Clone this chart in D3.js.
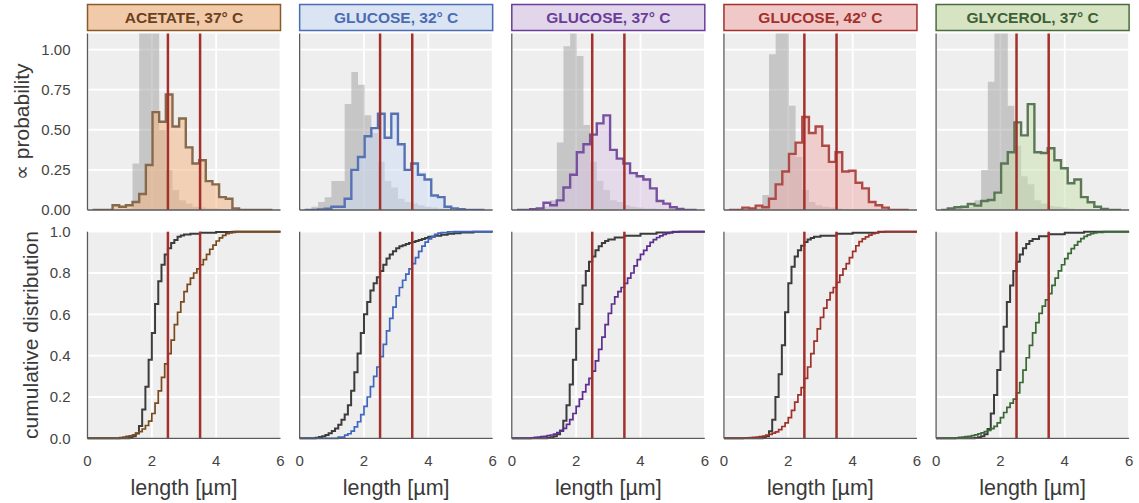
<!DOCTYPE html>
<html><head><meta charset="utf-8">
<script src="https://cdn.jsdelivr.net/npm/d3@7"></script>
<style>body{margin:0;background:#fff}</style>
</head><body>
<svg id="c" width="1139" height="503"></svg>
<script>
// ---------- data ----------
const conditions = ["ACETATE, 37° C", "GLUCOSE, 32° C", "GLUCOSE, 37° C", "GLUCOSE, 42° C", "GLYCEROL, 37° C"];
const boundaries = [2.5, 3.5];
const xTicks = [0, 2, 4, 6];
const yTicksTop = [0, 0.25, 0.5, 0.75, 1.0];
const yTicksBottom = [0, 0.2, 0.4, 0.6, 0.8, 1.0];
const binStart = 0.158, binWidth = 0.207;

const histAcetate   = [0,0,0,0.03,0.02,0.03,0.05,0.1,0.28,0.61,0.55,0.72,0.52,0.57,0.39,0.29,0.31,0.18,0.16,0.08,0.07,0.01,0,0,0,0,0];
const refAcetate    = [0,0,0,0,0.005,0.01,0.29,1.2,1.3,1.2,0.5,0.25,0.125,0.06,0.04,0.02,0.015,0.01,0.01,0.005,0,0,0,0,0,0,0];
const histGlucose32 = [0,0,0.003,0.008,0.02,0.02,0.07,0.25,0.33,0.46,0.51,0.6,0.45,0.6,0.41,0.25,0.29,0.22,0.19,0.09,0.08,0.02,0.01,0.005,0,0,0];
const refGlucose32  = [0.005,0.02,0.05,0.08,0.18,0.18,0.66,0.86,0.78,0.59,0.48,0.3,0.18,0.14,0.07,0.05,0.04,0.03,0.02,0.015,0.01,0.01,0.005,0.005,0,0,0];
const histGlucose37 = [0,0,0.005,0.01,0.045,0.03,0.06,0.14,0.22,0.36,0.41,0.47,0.54,0.59,0.375,0.32,0.29,0.23,0.21,0.19,0.135,0.056,0.04,0.017,0.006,0,0];
const refGlucose37  = [0,0,0.005,0.01,0.02,0.06,0.42,1.02,1.2,0.96,0.53,0.3,0.18,0.125,0.06,0.05,0.03,0.02,0.015,0.01,0.01,0.005,0,0,0,0,0];
const histGlucose42 = [0,0,0.015,0.01,0.027,0.017,0.07,0.16,0.24,0.35,0.42,0.58,0.48,0.52,0.4,0.3,0.36,0.24,0.245,0.17,0.135,0.05,0.03,0.015,0,0,0];
const refGlucose42  = [0,0,0.005,0.01,0.02,0.094,0.97,1.35,1.3,0.65,0.33,0.125,0.05,0.03,0.02,0.015,0.01,0.005,0,0,0,0,0,0,0,0,0];
const histGlycerol  = [0,0.01,0.017,0.02,0.037,0.027,0.056,0.062,0.108,0.29,0.36,0.546,0.465,0.66,0.36,0.355,0.385,0.31,0.26,0.167,0.19,0.08,0.048,0.02,0.006,0,0];
const refGlycerol   = [0,0.005,0.01,0.015,0.02,0.06,0.25,0.8,1.15,1.2,0.65,0.4,0.21,0.16,0.06,0.04,0.025,0.02,0.015,0.01,0.005,0,0,0,0,0,0];

const cdfRefAcetate = [[0,0],[1.2,0],[1.3,0.004],[1.4,0.01],[1.5,0.025],[1.6,0.06],[1.7,0.14],[1.8,0.25],[1.9,0.38],[2.0,0.51],[2.1,0.65],[2.2,0.76],[2.3,0.84],[2.4,0.89],[2.5,0.92],[2.6,0.945],[2.7,0.96],[2.8,0.975],[2.9,0.982],[3.0,0.987],[3.2,0.99],[3.5,0.995],[4.0,0.998],[4.5,1],[6,1]];
const cdfAcetate = [[0,0],[0.9,0],[1.0,0.003],[1.1,0.006],[1.2,0.009],[1.3,0.012],[1.4,0.017],[1.5,0.022],[1.6,0.032],[1.7,0.045],[1.8,0.062],[1.9,0.083],[2.0,0.12],[2.1,0.17],[2.2,0.23],[2.3,0.295],[2.4,0.36],[2.5,0.41],[2.6,0.475],[2.7,0.55],[2.8,0.61],[2.9,0.66],[3.0,0.71],[3.1,0.745],[3.2,0.775],[3.3,0.8],[3.4,0.82],[3.5,0.84],[3.6,0.865],[3.7,0.89],[3.8,0.915],[3.9,0.935],[4.0,0.955],[4.1,0.97],[4.2,0.982],[4.3,0.99],[4.4,0.994],[4.5,0.997],[4.6,1],[6,1]];
const cdfRefGlucose32 = [[0,0],[0.4,0],[0.5,0.003],[0.6,0.006],[0.7,0.01],[0.8,0.016],[0.9,0.024],[1.0,0.035],[1.1,0.048],[1.2,0.065],[1.3,0.09],[1.4,0.115],[1.5,0.16],[1.6,0.23],[1.7,0.32],[1.8,0.41],[1.9,0.51],[2.0,0.6],[2.1,0.66],[2.2,0.715],[2.3,0.75],[2.4,0.78],[2.5,0.81],[2.6,0.84],[2.7,0.87],[2.8,0.89],[2.9,0.905],[3.0,0.92],[3.1,0.93],[3.2,0.935],[3.3,0.94],[3.4,0.945],[3.5,0.95],[3.6,0.955],[3.7,0.96],[3.8,0.965],[3.9,0.97],[4.0,0.975],[4.2,0.98],[4.4,0.985],[4.6,0.99],[4.8,0.993],[5.0,0.996],[5.4,1],[6,1]];
const cdfGlucose32 = [[0,0],[1.0,0],[1.2,0.006],[1.4,0.015],[1.5,0.022],[1.6,0.035],[1.7,0.055],[1.8,0.08],[1.9,0.115],[2.0,0.155],[2.1,0.2],[2.2,0.25],[2.3,0.3],[2.4,0.345],[2.5,0.395],[2.6,0.455],[2.7,0.52],[2.8,0.58],[2.9,0.635],[3.0,0.69],[3.1,0.73],[3.2,0.765],[3.3,0.795],[3.4,0.82],[3.5,0.845],[3.6,0.875],[3.7,0.905],[3.8,0.93],[3.9,0.95],[4.0,0.965],[4.1,0.978],[4.2,0.987],[4.3,0.993],[4.4,0.996],[4.6,0.999],[4.8,1],[6,1]];
const cdfRefGlucose37 = [[0,0],[1.0,0],[1.1,0.002],[1.2,0.005],[1.3,0.01],[1.4,0.02],[1.5,0.038],[1.6,0.085],[1.7,0.16],[1.8,0.26],[1.9,0.38],[2.0,0.53],[2.1,0.65],[2.2,0.74],[2.3,0.81],[2.4,0.855],[2.5,0.88],[2.6,0.91],[2.7,0.93],[2.8,0.945],[2.9,0.955],[3.0,0.962],[3.2,0.972],[3.5,0.98],[4.0,0.99],[4.5,0.996],[5.0,1],[6,1]];
const cdfGlucose37 = [[0,0],[0.5,0],[0.6,0.002],[0.7,0.004],[0.8,0.006],[0.9,0.008],[1.0,0.01],[1.1,0.013],[1.2,0.016],[1.3,0.02],[1.4,0.027],[1.5,0.035],[1.6,0.048],[1.7,0.067],[1.8,0.09],[1.9,0.12],[2.0,0.155],[2.1,0.19],[2.2,0.225],[2.3,0.26],[2.4,0.29],[2.5,0.325],[2.6,0.375],[2.7,0.43],[2.8,0.49],[2.9,0.55],[3.0,0.605],[3.1,0.65],[3.2,0.685],[3.3,0.71],[3.4,0.73],[3.5,0.75],[3.6,0.775],[3.7,0.8],[3.8,0.835],[3.9,0.865],[4.0,0.89],[4.1,0.91],[4.2,0.93],[4.3,0.948],[4.4,0.962],[4.5,0.972],[4.6,0.98],[4.7,0.987],[4.8,0.992],[4.9,0.996],[5.0,0.998],[5.2,1],[6,1]];
const cdfRefGlucose42 = [[0,0],[1.1,0],[1.2,0.004],[1.3,0.01],[1.4,0.034],[1.5,0.09],[1.6,0.2],[1.7,0.31],[1.8,0.45],[1.9,0.61],[2.0,0.75],[2.1,0.83],[2.2,0.88],[2.3,0.91],[2.4,0.932],[2.5,0.95],[2.6,0.962],[2.7,0.97],[2.8,0.975],[3.0,0.98],[3.5,0.99],[4.0,0.995],[4.8,1],[6,1]];
const cdfGlucose42 = [[0,0],[0.5,0],[0.6,0.001],[0.7,0.002],[0.8,0.003],[0.9,0.005],[1.0,0.006],[1.1,0.008],[1.2,0.011],[1.3,0.015],[1.4,0.019],[1.5,0.025],[1.6,0.031],[1.7,0.042],[1.8,0.057],[1.9,0.075],[2.0,0.1],[2.1,0.135],[2.2,0.175],[2.3,0.21],[2.4,0.245],[2.5,0.29],[2.6,0.345],[2.7,0.41],[2.8,0.47],[2.9,0.53],[3.0,0.585],[3.1,0.63],[3.2,0.67],[3.3,0.705],[3.4,0.73],[3.5,0.755],[3.6,0.79],[3.7,0.82],[3.8,0.845],[3.9,0.875],[4.0,0.905],[4.1,0.932],[4.2,0.952],[4.3,0.965],[4.4,0.975],[4.5,0.983],[4.6,0.99],[4.7,0.995],[4.8,0.998],[5.0,1],[6,1]];
const cdfRefGlycerol = [[0,0],[1.1,0],[1.2,0.002],[1.3,0.005],[1.4,0.01],[1.5,0.02],[1.6,0.045],[1.7,0.12],[1.8,0.21],[1.9,0.33],[2.0,0.42],[2.1,0.54],[2.2,0.66],[2.3,0.74],[2.4,0.81],[2.5,0.855],[2.6,0.89],[2.7,0.92],[2.8,0.94],[2.9,0.955],[3.0,0.965],[3.2,0.978],[3.5,0.988],[4.0,0.995],[4.6,1],[6,1]];
const cdfGlycerol = [[0,0],[0.5,0],[0.6,0.002],[0.7,0.004],[0.8,0.006],[0.9,0.008],[1.0,0.01],[1.1,0.013],[1.2,0.017],[1.3,0.021],[1.4,0.026],[1.5,0.032],[1.6,0.038],[1.7,0.047],[1.8,0.058],[1.9,0.075],[2.0,0.1],[2.1,0.125],[2.2,0.15],[2.3,0.17],[2.4,0.19],[2.5,0.22],[2.6,0.27],[2.7,0.33],[2.8,0.39],[2.9,0.45],[3.0,0.51],[3.1,0.56],[3.2,0.605],[3.3,0.64],[3.4,0.67],[3.5,0.7],[3.6,0.74],[3.7,0.775],[3.8,0.81],[3.9,0.84],[4.0,0.87],[4.1,0.895],[4.2,0.918],[4.3,0.935],[4.4,0.952],[4.5,0.966],[4.6,0.977],[4.7,0.985],[4.8,0.99],[4.9,0.994],[5.0,0.997],[5.2,1],[6,1]];

const hists = [histAcetate, histGlucose32, histGlucose37, histGlucose42, histGlycerol];
const refHists = [refAcetate, refGlucose32, refGlucose37, refGlucose42, refGlycerol];
const cdfs = [cdfAcetate, cdfGlucose32, cdfGlucose37, cdfGlucose42, cdfGlycerol];
const refCdfs = [cdfRefAcetate, cdfRefGlucose32, cdfRefGlucose37, cdfRefGlucose42, cdfRefGlycerol];

// ---------- styles ----------
const lineColors   = ["#7a4a1c", "#3f67bf", "#5e2d91", "#a0302a", "#3a6a33"];
const outlineColors= ["#876a4b", "#5573b4", "#7850a0", "#af4b46", "#5a7855"];
const fillColors   = ["#f4b27e", "#cedcf6", "#dcc6e6", "#f2acac", "#cae2ac"];
const titleFills   = ["#f0caa9", "#dbe4f2", "#e2d6ea", "#f0c8c8", "#d7e4c3"];
const titleBorders = ["#8b5a2b", "#4a6cb3", "#6a3d9a", "#a3302b", "#4a6b3f"];
const titleTexts   = ["#6b4020", "#4a6cb3", "#6a3d9a", "#a3302b", "#3f5f35"];
const font = "'Liberation Sans', Arial, Helvetica, sans-serif";

const svg = d3.select("#c");
svg.append("rect").attr("width",1139).attr("height",503).attr("fill","#fff");

const left0 = 87.5, step = 212.15, pw = 193;
const topY0 = 33.5, topY1 = 210, botY0 = 231.7, botY1 = 438.3;
const bg = "#eeeeee";

conditions.forEach((name, i) => {
  const L = left0 + i*step, R = L + pw;
  const x = d3.scaleLinear().domain([0,6]).range([L,R]);
  const yT = d3.scaleLinear().domain([0,1.1]).range([topY1, topY0]);
  const yB = d3.scaleLinear().domain([0,1]).range([botY1, botY0]);

  // title box
  svg.append("rect").attr("x",L).attr("y",4.5).attr("width",pw).attr("height",26)
    .attr("fill",titleFills[i]).attr("stroke",titleBorders[i]).attr("stroke-width",1.5);
  svg.append("text").attr("x",(L+R)/2).attr("y",17.5).attr("dy","0.36em")
    .attr("text-anchor","middle").attr("font-family",font).attr("font-weight","bold")
    .attr("font-size",15.5).attr("fill",titleTexts[i]).text(name);

  // ---------- top panel ----------
  const clipId = "clipT"+i;
  svg.append("clipPath").attr("id",clipId).append("rect")
    .attr("x",L).attr("y",topY0).attr("width",pw).attr("height",topY1-topY0);
  const gT = svg.append("g");
  gT.append("rect").attr("x",L).attr("y",topY0).attr("width",pw).attr("height",topY1-topY0).attr("fill",bg);
  gT.selectAll(".hg").data(yTicksTop).join("line")
    .attr("x1",L).attr("x2",R).attr("y1",d=>yT(d)).attr("y2",d=>yT(d))
    .attr("stroke","#fff").attr("stroke-width",1.8);
  gT.selectAll(".vg").data(xTicks).join("line")
    .attr("x1",d=>x(d)).attr("x2",d=>x(d)).attr("y1",topY0).attr("y2",topY1)
    .attr("stroke","#fff").attr("stroke-width",1.8);

  const histPts = arr => {
    const pts = [[binStart,0]];
    arr.forEach((h,k)=>{ const e=binStart+k*binWidth; pts.push([e,h],[e+binWidth,h]); });
    pts.push([binStart+arr.length*binWidth,0]);
    return pts;
  };
  const hLine = d3.line().x(d=>x(d[0])).y(d=>yT(d[1]));
  const gc = gT.append("g").attr("clip-path","url(#"+clipId+")");
  gc.append("path").attr("d",hLine(histPts(refHists[i]))).attr("fill","#9a9a9a").attr("fill-opacity",0.48).attr("stroke","none");
  gc.append("path").attr("d",hLine(histPts(hists[i]))).attr("fill",fillColors[i]).attr("fill-opacity",0.5).attr("stroke","none");
  gc.append("path").attr("d",hLine(histPts(hists[i]))).attr("fill","none").attr("stroke",outlineColors[i]).attr("stroke-width",2.4).attr("stroke-linejoin","miter");
  gT.selectAll(".bd").data(boundaries).join("line")
    .attr("x1",d=>x(d)).attr("x2",d=>x(d)).attr("y1",topY0).attr("y2",topY1)
    .attr("stroke","#a3302b").attr("stroke-width",2.5);
  gT.append("line").attr("x1",L).attr("x2",L).attr("y1",topY0).attr("y2",topY1).attr("stroke","#5a5a5a").attr("stroke-width",1.3);
  gT.append("line").attr("x1",L).attr("x2",R).attr("y1",topY1).attr("y2",topY1).attr("stroke","#5a5a5a").attr("stroke-width",1.3);

  // ---------- bottom panel ----------
  const gB = svg.append("g");
  gB.append("rect").attr("x",L).attr("y",botY0).attr("width",pw).attr("height",botY1-botY0).attr("fill",bg);
  gB.selectAll(".hg").data(yTicksBottom).join("line")
    .attr("x1",L).attr("x2",R).attr("y1",d=>yB(d)).attr("y2",d=>yB(d))
    .attr("stroke","#fff").attr("stroke-width",1.8);
  gB.selectAll(".vg").data(xTicks).join("line")
    .attr("x1",d=>x(d)).attr("x2",d=>x(d)).attr("y1",botY0).attr("y2",botY1)
    .attr("stroke","#fff").attr("stroke-width",1.8);
  const cLine = d3.line().x(d=>x(d[0])).y(d=>yB(d[1])).curve(d3.curveStepAfter);
  gB.append("path").attr("d",cLine(refCdfs[i])).attr("fill","none").attr("stroke","#3c3c3c").attr("stroke-width",2);
  gB.append("path").attr("d",cLine(cdfs[i])).attr("fill","none").attr("stroke",lineColors[i]).attr("stroke-width",1.7);
  gB.selectAll(".bd").data(boundaries).join("line")
    .attr("x1",d=>x(d)).attr("x2",d=>x(d)).attr("y1",botY0).attr("y2",botY1)
    .attr("stroke","#a3302b").attr("stroke-width",2.5);
  gB.append("line").attr("x1",L).attr("x2",L).attr("y1",botY0).attr("y2",botY1).attr("stroke","#5a5a5a").attr("stroke-width",1.3);
  gB.append("line").attr("x1",L).attr("x2",R).attr("y1",botY1).attr("y2",botY1).attr("stroke","#5a5a5a").attr("stroke-width",1.3);

  // x tick labels
  gB.selectAll(".xt").data(xTicks).join("text")
    .attr("x",d=>x(d)).attr("y",466).attr("text-anchor","middle")
    .attr("font-family",font).attr("font-size",15).attr("fill","#444").text(d=>d);
  svg.append("text").attr("x",(L+R)/2).attr("y",494.5).attr("text-anchor","middle")
    .attr("font-family",font).attr("font-size",21.5).attr("fill","#3a3a3a").text("length [µm]");

  if (i === 0) {
    gT.selectAll(".yt").data(yTicksTop).join("text")
      .attr("x",L-17).attr("y",d=>yT(d)).attr("dy","0.36em").attr("text-anchor","end")
      .attr("font-family",font).attr("font-size",15).attr("fill","#444").text(d=>d.toFixed(2));
    gB.selectAll(".yt").data(yTicksBottom).join("text")
      .attr("x",L-17).attr("y",d=>yB(d)).attr("dy","0.36em").attr("text-anchor","end")
      .attr("font-family",font).attr("font-size",15).attr("fill","#444").text(d=>d.toFixed(1));
    svg.append("text").attr("transform",`translate(29,${(topY0+topY1)/2}) rotate(-90)`)
      .attr("text-anchor","middle").attr("font-family",font).attr("font-size",21)
      .attr("fill","#3a3a3a").text("∝ probability");
    svg.append("text").attr("transform",`translate(37.5,${(botY0+botY1)/2}) rotate(-90)`)
      .attr("text-anchor","middle").attr("font-family",font).attr("font-size",21)
      .attr("fill","#3a3a3a").text("cumulative distribution");
  }
});
</script>
</body></html>
